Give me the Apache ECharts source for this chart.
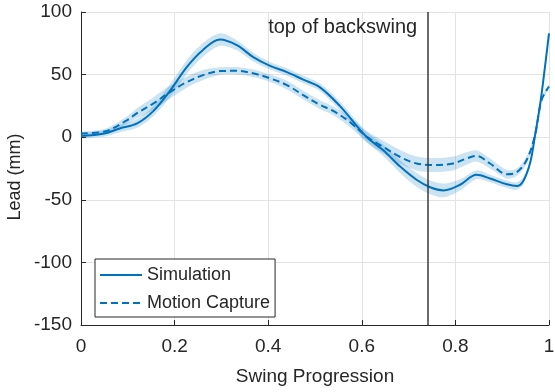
<!DOCTYPE html>
<html>
<head>
<meta charset="utf-8">
<script src="https://cdn.jsdelivr.net/npm/echarts@6/dist/echarts.min.js"></script>
<style>html,body{margin:0;padding:0;background:#fff}#c{width:555px;height:392px}</style>
</head>
<body>
<div id="c"></div>
<script>
// Simulation (solid)
const simX = [0, 0.05, 0.083, 0.12, 0.155, 0.19, 0.226, 0.26, 0.297, 0.333, 0.368, 0.404, 0.44, 0.475, 0.51, 0.553, 0.61, 0.646, 0.682, 0.717, 0.746, 0.775, 0.81, 0.845, 0.874, 0.91, 0.931, 0.945, 0.96, 0.97, 0.981, 0.991, 1.0];
const simY = [1, 3, 7, 11, 21, 37, 56, 69.5, 78, 73.5, 64, 57, 52, 46, 40, 25, 0.3, -10.5, -23.5, -34, -40, -42.5, -38, -30, -33, -37.6, -39, -35, -20, 1, 26, 55, 83];
const simBand = [2, 2.5, 3, 3.5, 4, 5, 5.5, 5.5, 5, 4, 3.5, 3, 3, 3, 3, 3.5, 4, 4.5, 5, 5.5, 5.5, 5.5, 4.5, 3.5, 3, 3, 3, 3, 2.5, 2, 2, 1.5, 1];
// Motion Capture (dashed)
const mocX = [0, 0.05, 0.098, 0.119, 0.155, 0.19, 0.226, 0.261, 0.297, 0.333, 0.368, 0.404, 0.44, 0.475, 0.51, 0.539, 0.575, 0.61, 0.646, 0.682, 0.717, 0.753, 0.795, 0.824, 0.845, 0.874, 0.91, 0.931, 0.952, 0.97, 0.984, 1.0];
const mocY = [3, 4.5, 13.5, 19, 27, 36, 44, 49.6, 52.8, 53, 51, 47, 41.6, 33.6, 26, 21, 12, 0.5, -7.8, -15.8, -21, -22.2, -21, -17, -15, -21, -29.6, -28, -18.4, 1.5, 29.6, 40.5];
const mocBand = [1.5, 2, 3, 4, 5, 5, 4.5, 4, 3, 3, 3, 3, 3.5, 3.5, 3.5, 3.5, 4, 4.5, 5, 5.5, 5.5, 5.5, 5.5, 5, 4.5, 4, 3.5, 3, 3, 2.5, 2, 1.5];
// Axis ticks
const xTicks = [0, 0.2, 0.4, 0.6, 0.8, 1];
const yTicks = [-150, -100, -50, 0, 50, 100];
const topOfBackswing = 0.745;
const annotationText = 'top of backswing';
const yTitle = 'Lead (mm)';
const xTitle = 'Swing Progression';

const BLUE = '#0072BD';
const BAND = 'rgba(0,114,189,0.2)';
const DARK = '#262626';
const FONT = '"Liberation Sans", Arial, sans-serif';

function pairs(xs, ys) { return xs.map((x, i) => [x, ys[i]]); }

function bandSeries(name, xs, ys, w) {
  return {
    name: name + '_band', type: 'custom', silent: true, z: 1, clip: true,
    data: xs.map((x, i) => [x, ys[i] - w[i], ys[i] + w[i]]),
    encode: { x: 0, y: [1, 2] },
    renderItem: function (params, api) {
      if (params.dataIndex !== 0) return null;
      const upper = xs.map((x, i) => api.coord([x, ys[i] + w[i]]));
      const lower = xs.map((x, i) => api.coord([x, ys[i] - w[i]])).reverse();
      return {
        type: 'group',
        children: [{
          type: 'polyline',
          shape: { points: upper.concat(lower), smooth: 0.3 },
          style: { fill: BAND, stroke: null }
        }]
      };
    }
  };
}

const chart = echarts.init(document.getElementById('c'), null, { renderer: 'canvas' });
chart.setOption({
  animation: false,
  backgroundColor: '#fff',
  textStyle: { fontFamily: FONT },
  grid: { left: 81, right: 6, top: 12, bottom: 67, containLabel: false, outerBoundsMode: 'none' },
  graphic: [{
    type: 'text', rotation: Math.PI / 2,
    x: 15, y: 177,
    style: { text: yTitle, font: '18px ' + FONT, fill: DARK, align: 'center', verticalAlign: 'middle' }
  }],
  legend: {
    orient: 'vertical', left: 95, top: 259,
    data: ['Simulation', 'Motion Capture'],
    itemWidth: 42, itemHeight: 14, itemGap: 10,
    padding: [7, 5, 5, 4],
    itemStyle: { color: 'rgba(0,0,0,0)', borderWidth: 0, opacity: 0 },
    backgroundColor: '#fff', borderColor: DARK, borderWidth: 1, borderRadius: 0,
    textStyle: { fontSize: 18, color: DARK, fontFamily: FONT }
  },
  xAxis: {
    type: 'value', min: xTicks[0], max: xTicks[xTicks.length - 1], interval: 0.2,
    name: xTitle, nameLocation: 'middle', nameGap: 42,
    nameTextStyle: { fontSize: 19, color: DARK, fontFamily: FONT },
    axisLine: { show: true, onZero: false, lineStyle: { color: DARK, width: 1 } },
    axisTick: { show: true, inside: true, length: 5, lineStyle: { color: DARK } },
    axisLabel: { fontSize: 19, color: DARK, margin: 12, fontFamily: FONT },
    splitLine: { show: true, lineStyle: { color: '#e3e3e3', width: 1 } }
  },
  yAxis: {
    type: 'value', min: yTicks[0], max: yTicks[yTicks.length - 1], interval: 50,
    axisLine: { show: true, onZero: false, lineStyle: { color: DARK, width: 1 } },
    axisTick: { show: true, inside: true, length: 5, lineStyle: { color: DARK } },
    axisLabel: { fontSize: 19, color: DARK, margin: 9, fontFamily: FONT },
    splitLine: { show: true, lineStyle: { color: '#e3e3e3', width: 1 } }
  },
  series: [
    bandSeries('sim', simX, simY, simBand),
    bandSeries('moc', mocX, mocY, mocBand),
    { name: 'Motion Capture', type: 'line', data: pairs(mocX, mocY), smooth: 0.35, symbol: 'none',
      lineStyle: { color: BLUE, width: 2, type: [7, 4] }, itemStyle: { color: BLUE }, z: 3 },
    { name: 'Simulation', type: 'line', data: pairs(simX, simY), smooth: 0.35, symbol: 'none',
      lineStyle: { color: BLUE, width: 2 }, itemStyle: { color: BLUE }, z: 3,
      markLine: {
        silent: true, symbol: 'none', animation: false,
        lineStyle: { color: '#3a3a3a', width: 1.5, type: 'solid' },
        label: { show: false },
        data: [{ xAxis: topOfBackswing }]
      },
      markPoint: {
        silent: true, animation: false,
        symbol: 'circle', symbolSize: 1, itemStyle: { color: 'rgba(0,0,0,0)' },
        label: { show: true, position: 'left', distance: 12, formatter: annotationText,
                 fontSize: 20, color: DARK, fontFamily: FONT },
        data: [{ coord: [topOfBackswing, 88] }]
      }
    }
  ]
});
</script>
</body>
</html>
